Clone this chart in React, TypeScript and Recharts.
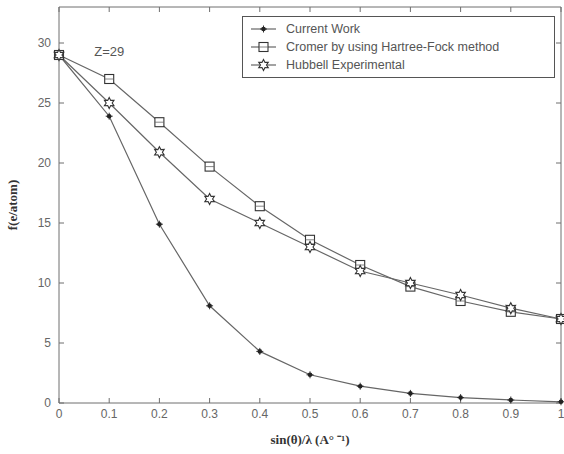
import React from "react";
import {
  LineChart,
  Line,
  XAxis,
  YAxis,
  Legend,
  ReferenceDot,
} from "recharts";

// sin(theta)/lambda values
const sinOverLambda = [0, 0.1, 0.2, 0.3, 0.4, 0.5, 0.6, 0.7, 0.8, 0.9, 1.0];
// f (e/atom) for Z=29
const currentWork = [29, 23.9, 14.9, 8.1, 4.3, 2.35, 1.4, 0.8, 0.45, 0.25, 0.1];
const cromerHF = [29, 27.0, 23.4, 19.7, 16.4, 13.6, 11.5, 9.7, 8.5, 7.6, 7.0];
const hubbellExp = [29, 25.0, 20.9, 17.0, 15.0, 13.0, 11.0, 10.0, 9.0, 7.9, 7.0];

const xTicks = [0, 0.1, 0.2, 0.3, 0.4, 0.5, 0.6, 0.7, 0.8, 0.9, 1];
const yTicks = [0, 5, 10, 15, 20, 25, 30];

const seriesNames = {
  current: "Current Work",
  cromer: "Cromer by using Hartree-Fock method",
  hubbell: "Hubbell Experimental",
};

const data = sinOverLambda.map((x, i) => ({
  x,
  current: currentWork[i],
  cromer: cromerHF[i],
  hubbell: hubbellExp[i],
}));

const LINE = "#666";
const MARK = "#333";
const AXIS = "#6e6e6e";
const tickFont = { fontSize: 12, fill: "#666", fontFamily: "Liberation Sans, Arial, sans-serif" };

function CurrentMark({ cx, cy }: { cx: number; cy: number }) {
  return (
    <g>
      <line x1={cx - 3.5} y1={cy} x2={cx + 3.5} y2={cy} stroke={MARK} strokeWidth={1} />
      <line x1={cx} y1={cy - 3.5} x2={cx} y2={cy + 3.5} stroke={MARK} strokeWidth={1} />
      <circle cx={cx} cy={cy} r={2.3} fill="#222" />
    </g>
  );
}

function SquareMark({ cx, cy }: { cx: number; cy: number }) {
  return (
    <g>
      <rect x={cx - 4.5} y={cy - 4.5} width={9} height={9} fill="white" stroke={MARK} strokeWidth={1.1} />
      <line x1={cx - 4.5} y1={cy} x2={cx + 4.5} y2={cy} stroke={LINE} strokeWidth={0.8} />
    </g>
  );
}

function starPoints(cx: number, cy: number, ro: number, ri: number) {
  const pts: string[] = [];
  for (let k = 0; k < 12; k++) {
    const r = k % 2 === 0 ? ro : ri;
    const a = (Math.PI / 6) * k - Math.PI / 2;
    pts.push(`${cx + r * Math.cos(a)},${cy + r * Math.sin(a)}`);
  }
  return pts.join(" ");
}

function StarMark({ cx, cy }: { cx: number; cy: number }) {
  return <polygon points={starPoints(cx, cy, 5.5, 3)} fill="white" stroke={MARK} strokeWidth={1.1} />;
}

const markers: Record<string, (p: any) => React.ReactElement> = {
  current: CurrentMark,
  cromer: SquareMark,
  hubbell: StarMark,
};

function renderLegend() {
  const rows = ["current", "cromer", "hubbell"];
  return (
    <div
      style={{
        border: "1px solid #555",
        background: "white",
        width: 313,
        height: 62,
        boxSizing: "border-box",
        padding: "3px 0 0 6px",
      }}
    >
      {rows.map((key) => {
        const M = markers[key];
        return (
          <div key={key} style={{ display: "flex", alignItems: "center", height: 18 }}>
            <svg width={30} height={14}>
              <line x1={2} y1={7} x2={27} y2={7} stroke={LINE} strokeWidth={1.2} />
              <M cx={14.5} cy={7} />
            </svg>
            <span
              style={{
                marginLeft: 7,
                fontSize: 12.5,
                color: "#555",
                fontFamily: "Liberation Sans, Arial, sans-serif",
              }}
            >
              {seriesNames[key as keyof typeof seriesNames]}
            </span>
          </div>
        );
      })}
    </div>
  );
}

export default function App() {
  return (
    <div style={{ position: "absolute", left: 0, top: 0, background: "white" }}>
      {/* top/right axes only carry the inward ticks of the box, their bands are pulled out of view */}
      <LineChart width={564} height={454} data={data} margin={{ top: -23, right: -37, left: 0, bottom: 0 }}>
        <XAxis
          dataKey="x"
          type="number"
          domain={[0, 1]}
          ticks={xTicks}
          height={51}
          tickSize={-5}
          tickMargin={11}
          tick={tickFont}
          stroke={AXIS}
          label={{
            value: "sin(θ)/λ (A° ⁻¹)",
            position: "insideBottom",
            offset: 10,
            style: { fontSize: 13, fontWeight: "bold", fill: "#333", fontFamily: "Liberation Serif, serif" },
          }}
        />
        <XAxis
          xAxisId="top"
          dataKey="x"
          orientation="top"
          type="number"
          domain={[0, 1]}
          ticks={xTicks}
          height={30}
          tickSize={-5}
          tickFormatter={() => ""}
          stroke={AXIS}
        />
        <YAxis
          type="number"
          domain={[0, 33]}
          ticks={yTicks}
          width={59}
          tickSize={-5}
          tickMargin={13}
          tick={tickFont}
          stroke={AXIS}
          label={{
            value: "f(e/atom)",
            angle: -90,
            position: "insideLeft",
            offset: 12,
            style: { fontSize: 13, fontWeight: "bold", fill: "#333", fontFamily: "Liberation Serif, serif", textAnchor: "middle" },
          }}
        />
        <YAxis
          yAxisId="right"
          orientation="right"
          type="number"
          domain={[0, 33]}
          ticks={yTicks}
          width={40}
          tickSize={-5}
          tickFormatter={() => ""}
          stroke={AXIS}
        />
        <Legend
          layout="vertical"
          align="center"
          verticalAlign="middle"
          content={renderLegend}
          wrapperStyle={{ left: 242, top: 16, width: 313 }}
        />
        <ReferenceDot
          x={0.1}
          y={29.3}
          r={0}
          label={{ value: "Z=29", position: "center", style: { fontSize: 13, fill: "#555", fontFamily: "Liberation Sans, Arial, sans-serif" } }}
        />
        <Line
          dataKey="current"
          name={seriesNames.current}
          stroke={LINE}
          strokeWidth={1.2}
          dot={(p: any) => <CurrentMark key={`c${p.index}`} cx={p.cx} cy={p.cy} />}
          isAnimationActive={false}
        />
        <Line
          xAxisId="top"
          dataKey="cromer"
          name={seriesNames.cromer}
          stroke={LINE}
          strokeWidth={1.2}
          dot={(p: any) => <SquareMark key={`s${p.index}`} cx={p.cx} cy={p.cy} />}
          isAnimationActive={false}
        />
        <Line
          yAxisId="right"
          dataKey="hubbell"
          name={seriesNames.hubbell}
          stroke={LINE}
          strokeWidth={1.2}
          dot={(p: any) => <StarMark key={`h${p.index}`} cx={p.cx} cy={p.cy} />}
          isAnimationActive={false}
        />
      </LineChart>
    </div>
  );
}
